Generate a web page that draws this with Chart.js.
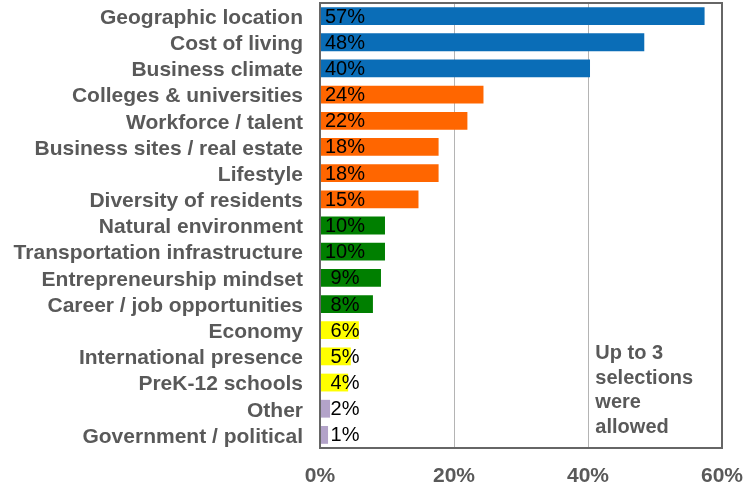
<!DOCTYPE html>
<html>
<head>
<meta charset="utf-8">
<script src="https://cdn.jsdelivr.net/npm/chart.js@4"></script>
<style>
html,body{margin:0;padding:0;background:#fff;}
#wrap{width:744px;height:487px;position:relative;}
</style>
</head>
<body>
<div id="wrap"><canvas id="c"></canvas></div>
<script>
const categories = [
  "Geographic location","Cost of living","Business climate","Colleges & universities",
  "Workforce / talent","Business sites / real estate","Lifestyle","Diversity of residents",
  "Natural environment","Transportation infrastructure","Entrepreneurship mindset",
  "Career / job opportunities","Economy","International presence","PreK-12 schools",
  "Other","Government / political"
];
const values = [57.4,48.4,40.3,24.4,22.0,17.7,17.7,14.7,9.7,9.7,9.1,7.9,5.8,4.6,4.2,1.5,1.2];
const valueLabels = ["57%","48%","40%","24%","22%","18%","18%","15%","10%","10%","9%","8%","6%","5%","4%","2%","1%"];
const barColors = [
  "#0a6db7","#0a6db7","#0a6db7",
  "#ff6600","#ff6600","#ff6600","#ff6600","#ff6600",
  "#007f00","#007f00","#007f00","#007f00",
  "#ffff00","#ffff00","#ffff00",
  "#b3a3c9","#b3a3c9"
];
const xTicks = [0,20,40,60];
const noteLines = ["Up to 3","selections","were","allowed"];

const FONT = "'Liberation Sans', Arial, Helvetica, sans-serif";
const GRAY = "#595959";

const overlay = {
  id: "overlay",
  afterDatasetsDraw(chart) {
    const ctx = chart.ctx;
    const meta = chart.getDatasetMeta(0);
    const xs = chart.scales.x;
    const x0 = xs.getPixelForValue(0);
    ctx.save();
    ctx.font = "20px " + FONT;
    ctx.fillStyle = "#000";
    ctx.textAlign = "center";
    ctx.textBaseline = "middle";
    meta.data.forEach((bar, i) => {
      ctx.fillText(valueLabels[i], x0 + 25, bar.y + 1);
    });
    ctx.font = "bold 20px " + FONT;
    ctx.fillStyle = GRAY;
    ctx.textAlign = "left";
    const ys = chart.scales.y;
    const nx = xs.getPixelForValue(41.1);
    noteLines.forEach((t, i) => {
      const y = ys.getPixelForValue(13) - 3 + i * 24.8;
      ctx.fillText(t, nx, y);
    });
    ctx.restore();
  },
  afterDraw(chart) {
    const a = chart.chartArea;
    const ctx = chart.ctx;
    ctx.save();
    ctx.strokeStyle = "#666666";
    ctx.lineWidth = 2;
    ctx.strokeRect(a.left, a.top, a.right - a.left, a.bottom - a.top);
    ctx.restore();
  }
};

new Chart(document.getElementById("c"), {
  type: "bar",
  data: {
    labels: categories,
    datasets: [{
      data: values,
      backgroundColor: barColors,
      borderWidth: 0,
      barPercentage: 0.68,
      categoryPercentage: 1.0
    }]
  },
  options: {
    indexAxis: "y",
    responsive: true,
    maintainAspectRatio: false,
    animation: false,
    layout: { padding: { top: 3, right: 22, left: 0, bottom: 0 } },
    plugins: { legend: { display: false }, tooltip: { enabled: false } },
    scales: {
      x: {
        min: 0, max: 60,
        afterBuildTicks(s) { s.ticks = xTicks.map(v => ({ value: v })); },
        afterFit(s) {
          s.height = 39;
          s.paddingLeft = 0; s.paddingRight = 0; s.paddingTop = 0; s.paddingBottom = 0;
        },
        grid: { color: "#b4b4b4", lineWidth: 1, drawTicks: false },
        border: { display: false },
        ticks: {
          padding: 16,
          color: GRAY,
          font: { family: FONT, size: 21, weight: "bold" },
          callback: v => v + "%"
        }
      },
      y: {
        afterFit(s) {
          s.width = 320;
          s.paddingLeft = 0; s.paddingRight = 0; s.paddingTop = 0; s.paddingBottom = 0;
        },
        grid: { display: false, drawTicks: false },
        border: { display: false },
        ticks: {
          padding: 17,
          labelOffset: 2,
          color: GRAY,
          autoSkip: false,
          font: { family: FONT, size: 21, weight: "bold" }
        }
      }
    }
  },
  plugins: [overlay]
});
</script>
</body>
</html>
